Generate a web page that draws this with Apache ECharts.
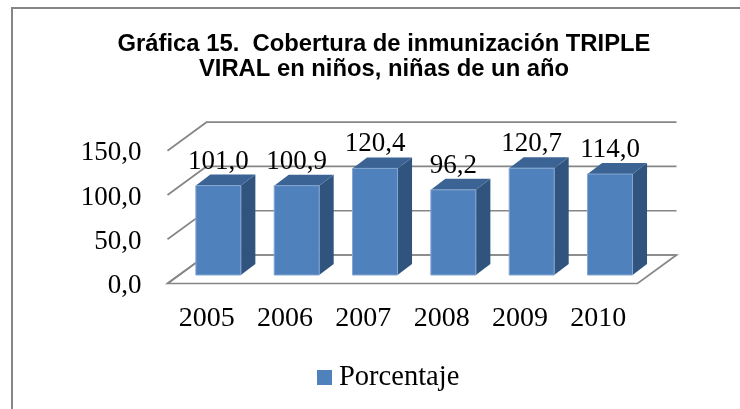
<!DOCTYPE html>
<html>
<head>
<meta charset="utf-8">
<title>Gráfica 15</title>
<script src="https://cdn.jsdelivr.net/npm/echarts@6/dist/echarts.min.js"></script>
<style>
html,body{margin:0;padding:0;background:#fff;}
#main{width:740px;height:409px;}
</style>
</head>
<body>
<div id="main"></div>
<script>
var years=["2005","2006","2007","2008","2009","2010"];
var porcentaje=[101.0,100.9,120.4,96.2,120.7,114.0];
var yTicks=[0,50,100,150];

var serif='"Liberation Serif", serif';
var gridColor='#868686';

// fake 3D: how far the back wall and the bars sit behind the front floor edge
var wallDx=39, wallDy=-28.5;
var barShiftX=11.7, barShiftY=-8.5;
var barDx=14.5, barDy=-11;
var barWidth=45;

function comma(v){
    return v.toFixed(1).replace('.',',');
}

function renderFloor(params,api){
    var cs=params.coordSys;
    var l=cs.x, r=cs.x+cs.width, y=api.coord([0,0])[1];
    return {
        type:'polygon',
        shape:{points:[[l,y],[r,y],[r+wallDx,y+wallDy],[l+wallDx,y+wallDy]]},
        style:{fill:'#fff',stroke:gridColor,lineWidth:1.7}
    };
}

function renderWall(params,api){
    var cs=params.coordSys;
    var l=cs.x, r=cs.x+cs.width, y=api.coord([0,api.value(1)])[1];
    return {
        type:'polyline',
        shape:{points:[[l,y],[l+wallDx,y+wallDy],[r+wallDx,y+wallDy]]},
        style:{fill:null,stroke:gridColor,lineWidth:1.7}
    };
}

function renderBar(params,api){
    var v=api.value(1);
    var top=api.coord([api.value(0),v]);
    var base=api.coord([api.value(0),0]);
    var x0=top[0]+barShiftX-barWidth/2, x1=x0+barWidth;
    var y0=top[1]+barShiftY, y1=base[1]+barShiftY;
    return {
        type:'group',
        children:[
            {type:'polygon',
             shape:{points:[[x1,y0],[x1+barDx,y0+barDy],[x1+barDx,y1+barDy],[x1,y1]]},
             style:{fill:'#31547F'}},
            {type:'polygon',
             shape:{points:[[x0,y0],[x0+barDx,y0+barDy],[x1+barDx,y0+barDy],[x1,y0]]},
             style:{fill:'#3B6494'}},
            {type:'rect',
             shape:{x:x0,y:y0,width:barWidth,height:y1-y0},
             style:{fill:'#4F81BD',stroke:'#85A7D2',lineWidth:1}},
            {type:'text',z2:10,
             style:{text:comma(v),x:x0+barWidth/2,y:y0-24,
                    align:'center',verticalAlign:'middle',
                    font:'27px '+serif,fill:'#000'}}
        ]
    };
}

var chart=echarts.init(document.getElementById('main'));
chart.setOption({
    animation:false,
    title:{
        text:'Gráfica 15.  Cobertura de inmunización TRIPLE\nVIRAL en niños, niñas de un año',
        left:379,
        top:27,
        textAlign:'center',
        textStyle:{fontFamily:'"Liberation Sans"',fontSize:23.8,fontWeight:'bold',color:'#000',lineHeight:25}
    },
    legend:{
        data:['Porcentaje'],
        left:312,
        top:358,
        icon:'rect',
        itemWidth:15,
        itemHeight:15,
        textStyle:{fontFamily:serif,fontSize:28.5,color:'#000',padding:[0,0,0,2]}
    },
    graphic:[{
        type:'polyline',
        shape:{points:[[12,409],[12,8],[740,8]]},
        style:{fill:null,stroke:gridColor,lineWidth:2}
    }],
    grid:{left:167.5,top:150.7,width:470,height:132.8},
    xAxis:{
        type:'category',
        data:years,
        axisLine:{show:false},
        axisTick:{show:false},
        axisLabel:{fontFamily:serif,fontSize:28,color:'#000',margin:21}
    },
    yAxis:{
        type:'value',
        min:0,
        max:150,
        interval:50,
        axisLine:{show:false},
        axisTick:{show:false},
        splitLine:{show:false},
        axisLabel:{
            margin:26,
            formatter:function(v){return '{a|'+comma(v)+'}';},
            rich:{a:{fontFamily:serif,fontSize:27,color:'#000',padding:[5,0,0,0]}}
        }
    },
    series:[
        {type:'custom',silent:true,renderItem:renderFloor,data:[[0,0]],encode:{x:0,y:1}},
        {type:'custom',silent:true,renderItem:renderWall,
         data:yTicks.map(function(v){return [0,v];}),encode:{x:0,y:1}},
        {name:'Porcentaje',type:'custom',renderItem:renderBar,
         itemStyle:{color:'#4F81BD'},
         data:porcentaje.map(function(v,i){return [i,v];}),encode:{x:0,y:1}}
    ]
});
</script>
</body>
</html>
